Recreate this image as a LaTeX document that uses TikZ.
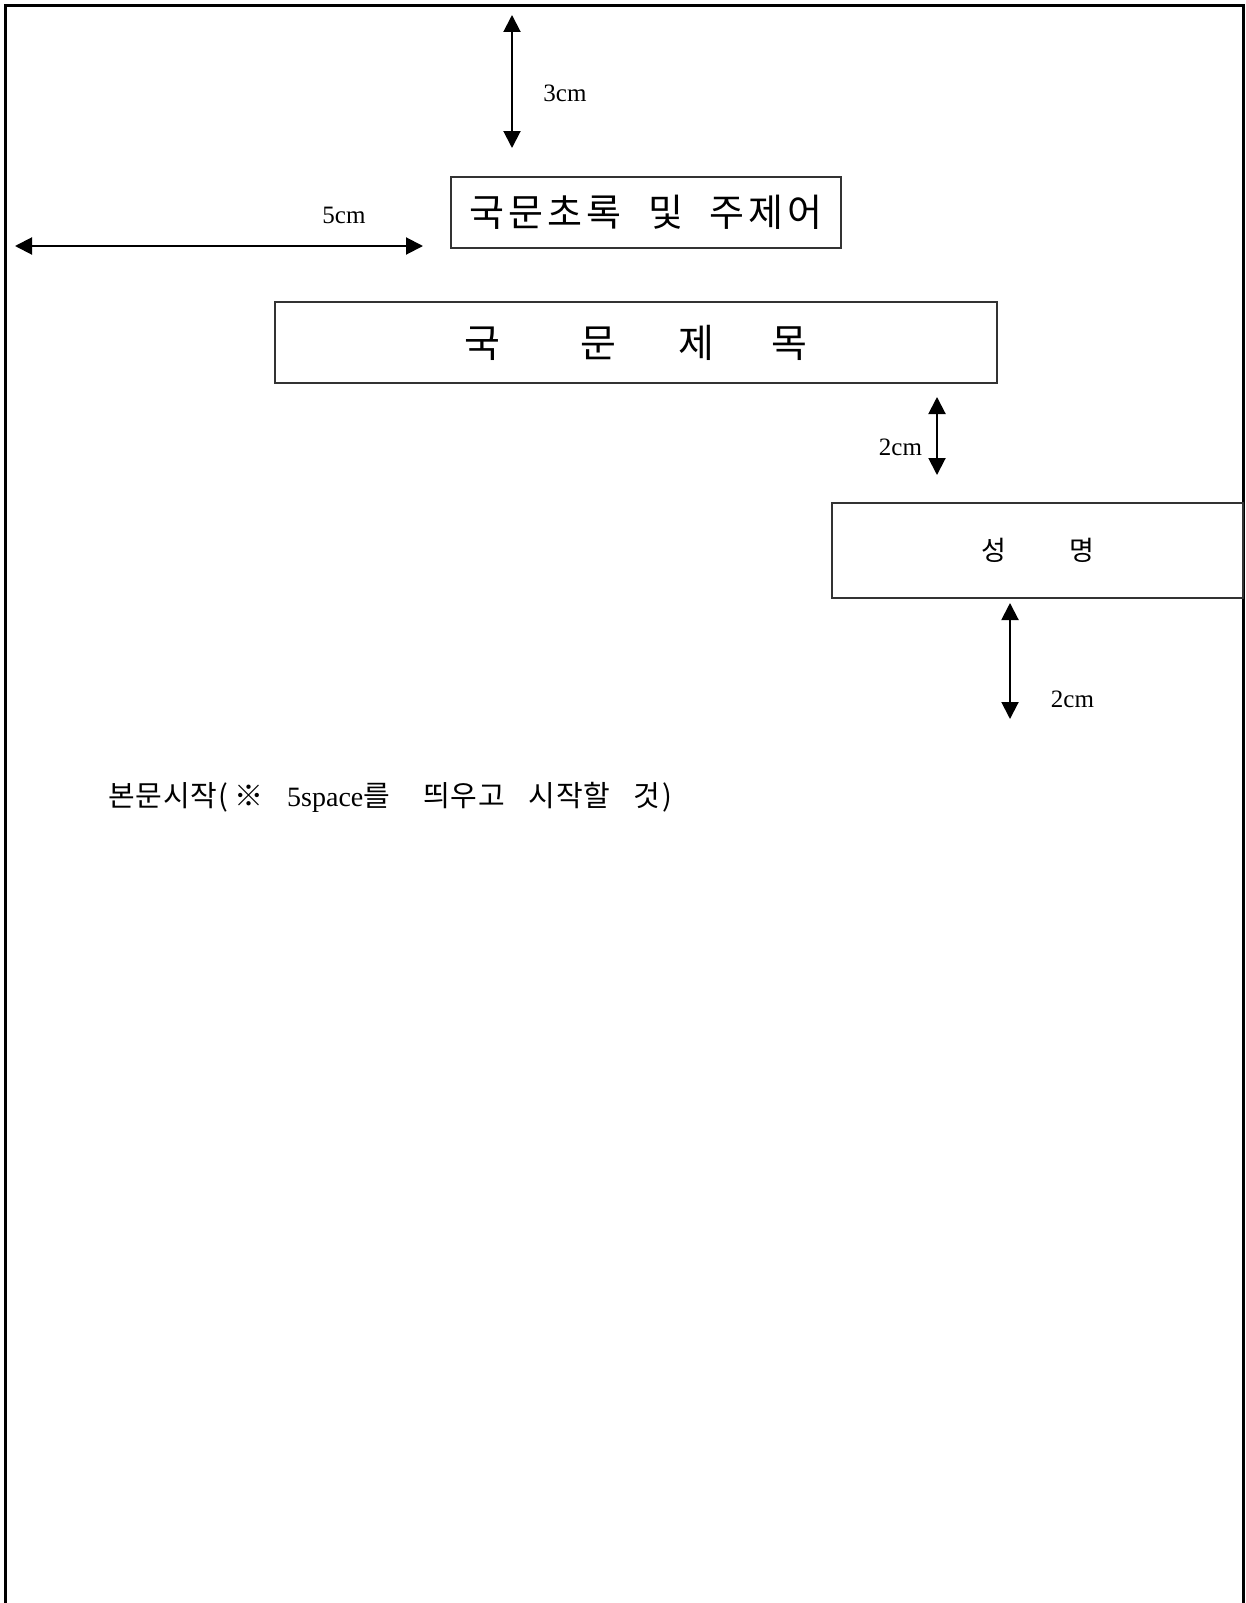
\documentclass[tikz,border=0pt]{standalone}
\usepackage{fontspec}
\setmainfont{Liberation Serif}
\newfontfamily\kr{Noto Sans CJK KR}
\newfontfamily\krwide[LetterSpace=11]{Noto Sans CJK KR}
\newfontfamily\krbody[LetterSpace=3]{Noto Sans CJK KR}
\usetikzlibrary{arrows.meta}
\begin{document}
\begin{tikzpicture}[x=1pt,y=-1pt,
  frameline/.style={line width=3pt,line cap=butt},
  boxstyle/.style={draw=black!80,line width=1.3pt,inner sep=0pt},
  dimarrow/.style={line width=2pt,{Triangle[length=17pt,width=17pt]}-{Triangle[length=17pt,width=17pt]}},
  dimlabel/.style={inner sep=0pt,font=\fontsize{25}{28}\selectfont},
  krbig/.style={font=\krwide\fontsize{38}{42}\selectfont},
  krtitle/.style={font=\kr\fontsize{39}{42}\selectfont},
  krmid/.style={font=\kr\fontsize{27}{30}\selectfont}]
\useasboundingbox (0,0) rectangle (1246,1603);
\fill[white] (0,0) rectangle (1246,1603);
% page frame (open at the bottom)
\draw[frameline] (5,1603) -- (5,6) -- (1243,6) -- (1243,1603);
% boxes
\node[boxstyle,krbig,minimum width=390pt,minimum height=71pt] (abs) at (646,212.5)
  {국문초록\hspace{0.7em}및\hspace{0.7em}주제어};
\node[boxstyle,krtitle,minimum width=722pt,minimum height=81pt] (title) at (636,342.5)
  {\raisebox{-2pt}{국\hspace{80pt}문\hspace{62pt}제\hspace{57pt}목}\hspace{9pt}};
\node[boxstyle,krmid,minimum width=411pt,minimum height=95pt] (name) at (1037.5,550.5)
  {\raisebox{-5pt}{성\hspace{63pt}명}};
% dimension arrows
\coordinate (t1) at (512,15);
\coordinate (t2) at (512,148);
\draw[dimarrow] (t1) -- (t2);
\node[dimlabel] (l3) at (565,93) {3cm};
\coordinate (h1) at (15,246);
\coordinate (h2) at (423,246);
\draw[dimarrow] (h1) -- (h2);
\node[dimlabel] (l5) at (344,215) {5cm};
\coordinate (u1) at (937,397);
\coordinate (u2) at (937,475);
\draw[dimarrow] (u1) -- (u2);
\node[dimlabel] (l2a) at (900.5,447) {2cm};
\coordinate (d1) at (1010,603);
\coordinate (d2) at (1010,719);
\draw[dimarrow] (d1) -- (d2);
\node[dimlabel] (l2b) at (1072.5,699) {2cm};
% body start note
\node[anchor=west,inner sep=0pt,font=\fontsize{28}{30}\selectfont] (body) at (108,797)
  {{\krbody\fontsize{29}{30}\selectfont 본문시작(\hspace{6pt}※}\hspace{24pt}5space{\krbody\fontsize{29}{30}\selectfont 를\hspace{33pt}띄우고\hspace{24pt}시작할\hspace{23pt}것\hspace{2pt})}};
\end{tikzpicture}
\end{document}
